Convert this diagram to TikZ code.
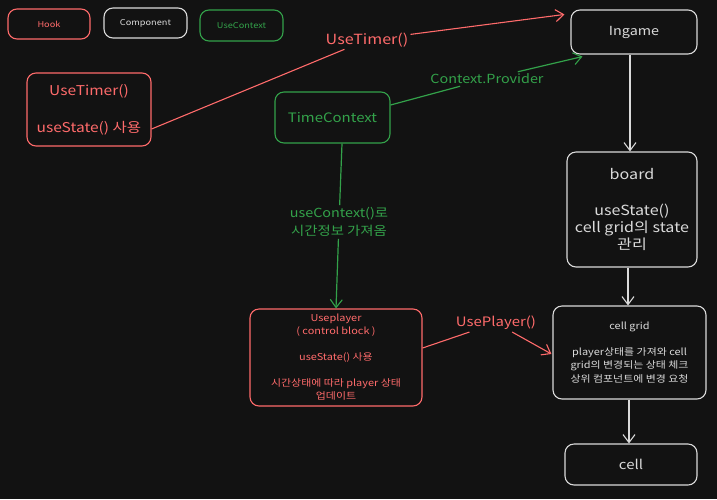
\documentclass[tikz,border=0pt]{standalone}
\usepackage{fontspec}
\setmainfont[FakeStretch=1.15]{Noto Sans CJK KR}
\usetikzlibrary{arrows.meta,calc}
\definecolor{bg}{HTML}{121212}
\definecolor{hookc}{HTML}{FF6B6B}
\definecolor{compc}{HTML}{DADADA}
\definecolor{ctxc}{HTML}{33A24A}
\newcommand{\fs}[2]{\fontsize{#1}{#2}\selectfont}
\begin{document}
\begin{tikzpicture}[x=1pt,y=-1pt,
  box/.style={draw, rounded corners=9pt, line width=1.1pt, align=center, inner sep=0pt},
  hook/.style={box, draw=hookc, text=hookc},
  comp/.style={box, draw=compc, text=compc},
  ctx/.style={box, draw=ctxc, text=ctxc},
  lbl/.style={fill=bg, inner sep=2pt, align=center},
  tip/.style={-{Straight Barb[length=8pt,width=12pt,line width=1.1pt]}},
  hookline/.style={draw=hookc, line width=1.1pt},
  compline/.style={draw=compc, line width=1.1pt},
  ctxline/.style={draw=ctxc, line width=1.2pt}]
\fill[bg] (0,0) rectangle (717,499);
\useasboundingbox (0,0) rectangle (717,499);

% legend
\node[hook, minimum width=82pt, minimum height=30pt, font=\fs{8}{10}] (lhook) at (49,24) {Hook};
\node[comp, minimum width=83pt, minimum height=30pt, font=\fs{8}{10}] (lcomp) at (145.5,23) {Component};
\node[ctx, minimum width=83pt, minimum height=31pt, font=\fs{8}{10}] (lctx) at (241.5,25.5) {UseContext};

% main nodes
\node[hook, minimum width=124pt, minimum height=73pt, font=\fs{13.5}{18}] (timer) at (89,109.5)
  {UseTimer()\\[19pt]useState() 사용};
\node[ctx, minimum width=115pt, minimum height=51pt, font=\fs{13}{16}] (tc) at (332.5,117.5) {TimeContext};
\node[comp, minimum width=126pt, minimum height=44pt, font=\fs{12.5}{15}] (ingame) at (634,32) {Ingame};
\node[comp, minimum width=130pt, minimum height=115pt, font=\fs{14}{17}] (board) at (632,209.5)
  {board\\[19pt]useState()\\cell grid의 state\\관리};
\node[hook, minimum width=172pt, minimum height=97pt, font=\fs{9.5}{13}] (player) at (336,357.5)
  {Useplayer\\( control block )\\[13pt]useState() 사용\\[13pt]시간상태에 따라 player 상태\\업데이트};
\node[comp, minimum width=153pt, minimum height=93pt, font=\fs{9.5}{13.5}] (grid) at (629.5,352.5)
  {cell grid\\[12pt]player상태를 가져와 cell\\grid의 변경되는 상태 체크\\상위 컴포넌트에 변경 요청};
\node[comp, minimum width=132pt, minimum height=41pt, font=\fs{13}{15}] (cell) at (631,464.5) {cell};

% labels
\node[lbl, text=hookc, font=\fs{14}{16}] (lt) at (367,40) {UseTimer()};
\node[lbl, text=ctxc, font=\fs{12.5}{15}] (lcp) at (487,79) {Context.Provider};
\node[lbl, text=ctxc, font=\fs{12.5}{18}] (luc) at (339,222) {useContext()로\\시간정보 가져옴};
\node[lbl, text=hookc, font=\fs{13}{15}] (lup) at (496,323) {UsePlayer()};

% connectors
\coordinate (tipIngameA) at ($(ingame.north west)+(-6,5)$);
\coordinate (tipIngameB) at ($(ingame.south west)+(12,2)$);
\draw[hookline] (timer.east |- 0,129) -- (lt);
\draw[hookline, tip] (lt) -- (tipIngameA);
\draw[ctxline] (tc.east |- 0,105) -- (lcp);
\draw[ctxline, tip] (lcp) -- (tipIngameB);
\draw[ctxline] (tc.south -| 342,0) -- (luc);
\draw[ctxline, tip] (luc) -- (player.north -| 336,0);
\draw[compline, tip] (ingame.south -| 630,0) -- (board.north -| 630,0);
\draw[compline, tip] (board.south -| 628,0) -- (grid.north -| 628,0);
\draw[compline, tip] (grid.south -| 629,0) -- (cell.north -| 629,0);
\draw[hookline] (player.east |- 0,348) -- (lup);
\draw[hookline, tip] (lup) -- ($(grid.west |- 0,354)+(-1,0)$);
\end{tikzpicture}
\end{document}
